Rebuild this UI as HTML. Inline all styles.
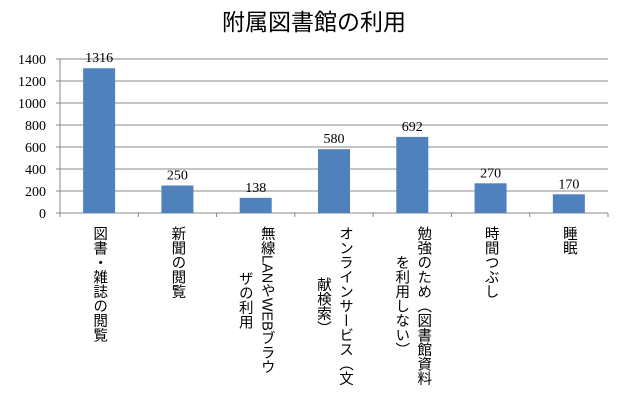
<!DOCTYPE html>
<html><head><meta charset="utf-8"><style>
body{margin:0;background:#fff;}
#c{position:relative;width:619px;height:402px;overflow:hidden;font-family:"Liberation Serif","Noto Serif CJK SC",serif;}
.lab{position:absolute;top:226px;writing-mode:vertical-rl;text-align:center;font-family:"Liberation Sans","Noto Sans CJK JP",sans-serif;font-size:14.5px;line-height:22px;color:#000;white-space:nowrap;}
</style></head><body>
<div id="c">
<svg id="s" width="619" height="402" style="position:absolute;left:0;top:0">
<text x="314" y="30" text-anchor="middle" font-size="23" font-family="Liberation Sans, Noto Sans CJK JP, sans-serif">附属図書館の利用</text>
</svg>
</div>
<script>
const categories=["図書・雑誌の閲覧","新聞の閲覧","無線LANやWEBブラウザの利用","オンラインサービス（文献検索）","勉強のため（図書館資料を利用しない）","時間つぶし","睡眠"];
const labelLines=[["図書・雑誌の閲覧"],["新聞の閲覧"],["無線LANやWEBブラウ","ザの利用"],["オンラインサービス（文","献検索）"],["勉強のため（図書館資料","を利用しない）"],["時間つぶし"],["睡眠"]];
const values=[1316,250,138,580,692,270,170];
const yTicks=[0,200,400,600,800,1000,1200,1400];
const NS="http://www.w3.org/2000/svg";
const svg=document.getElementById('s');const c=document.getElementById('c');
const X0=60,X1=608,Y0=213,Y1=59,YMAX=1400;
const cw=(X1-X0)/categories.length;
const y=v=>Y0-(v/YMAX)*(Y0-Y1);
const xc=i=>X0+cw*(i+0.5);
function mk(t,a){const e=document.createElementNS(NS,t);for(const k in a)e.setAttribute(k,a[k]);svg.appendChild(e);return e;}
yTicks.forEach(t=>{
  if(t>0){const g=mk('line',{x1:X0,x2:X1,y1:y(t),y2:y(t),stroke:'#888','stroke-width':1});
  
  }
  const tk=mk('line',{x1:X0-4,x2:X0,y1:y(t),y2:y(t),stroke:'#888'});
  
  
  const tx=mk('text',{x:X0-14,y:y(t)+5,'text-anchor':'end','font-size':14});
  tx.textContent=t;
  
  
});
const ax=mk('line',{x1:X0,x2:X0,y1:Y1,y2:Y0,stroke:'#888'});


const bx=mk('line',{x1:X0,x2:X1,y1:Y0,y2:Y0,stroke:'#888'});


for(let i=0;i<=categories.length;i++){
  const t=mk('line',{x1:X0+cw*i,x2:X0+cw*i,y1:Y0,y2:Y0+4,stroke:'#888'});
  
  
}
values.forEach((v,i)=>{
  const bw=32;
  const r=mk('rect',{x:xc(i)-bw/2,y:y(v),width:bw,height:Y0-y(v),fill:'#4f81bd'});
  
  
  const t=mk('text',{x:xc(i),y:y(v)-6,'text-anchor':'middle','font-size':14});
  t.textContent=v;
  
  
  const d=document.createElement('div');
  d.className='lab';
  d.innerHTML=labelLines[i].join('<br>');
  
  
  c.appendChild(d);
  d.style.left=(xc(i)-11-(labelLines[i].length-1)*11)+'px';
});
</script>
</body></html>
